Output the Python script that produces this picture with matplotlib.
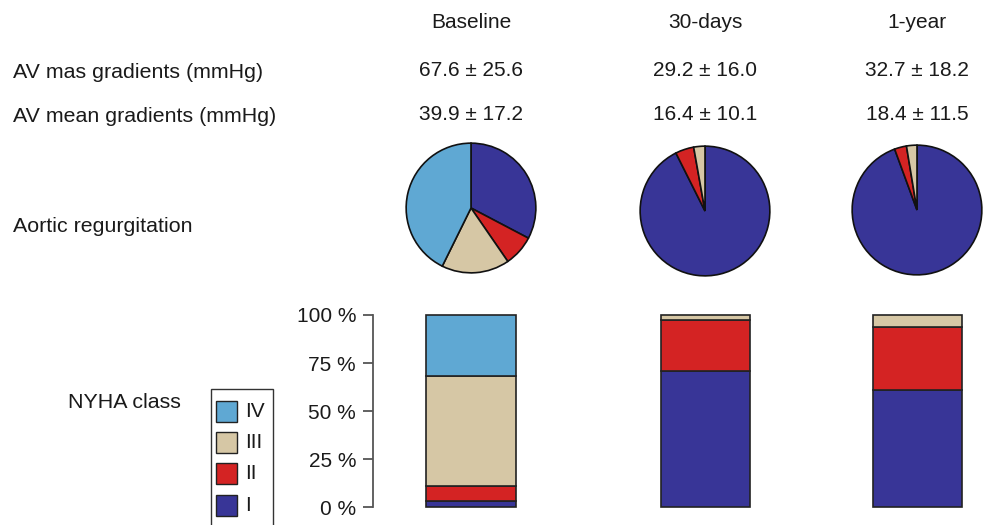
import matplotlib
matplotlib.use("Agg")
import matplotlib.pyplot as plt
from matplotlib.patches import Rectangle

plt.rcParams['font.family'] = ['Liberation Sans', 'DejaVu Sans']

# ---- data ----
timepoints = ["Baseline", "30-days", "1-year"]
classes = ["I", "II", "III", "IV"]
colors = ["#383597", "#d42323", "#d6c7a5", "#5fa8d3"]

max_grad = ["67.6 \u00b1 25.6", "29.2 \u00b1 16.0", "32.7 \u00b1 18.2"]
mean_grad = ["39.9 \u00b1 17.2", "16.4 \u00b1 10.1", "18.4 \u00b1 11.5"]

# aortic regurgitation (%), order I, II, III, IV
ar_baseline = [32.7, 7.7, 16.9, 42.7]
ar_30days = [92.6, 4.6, 2.8, 0.0]
ar_1year = [94.4, 3.0, 2.6, 0.0]
ar_values = [ar_baseline, ar_30days, ar_1year]

# NYHA class (%), order I, II, III, IV
nyha_baseline = [3.4, 7.7, 57.3, 31.6]
nyha_30days = [71.0, 26.2, 2.8, 0.0]
nyha_1year = [61.1, 32.8, 6.1, 0.0]
nyha_values = [nyha_baseline, nyha_30days, nyha_1year]

yticks = [0, 25, 50, 75, 100]
ytick_labels = ["0 %", "25 %", "50 %", "75 %", "100 %"]

# ---- layout (pixels) ----
W, H = 986, 525
col_x = [471, 705, 917]
fs = 15
fs_row = 15.4
txt_col = "#1a1a1a"

fig = plt.figure(figsize=(W / 100, H / 100), dpi=100)

def fx(px):
    return px / W

def fy(py):
    return 1 - py / H

# header texts
for x, t in zip(col_x, timepoints):
    fig.text(fx(x), fy(22), t, ha="center", va="center", fontsize=fs, color=txt_col)
for x, t in zip(col_x, max_grad):
    fig.text(fx(x), fy(71), t, ha="center", va="center", fontsize=fs, color=txt_col)
for x, t in zip(col_x, mean_grad):
    fig.text(fx(x), fy(115), t, ha="center", va="center", fontsize=fs, color=txt_col)

fig.text(fx(13), fy(72), "AV mas gradients (mmHg)", ha="left", va="center", fontsize=fs_row, color=txt_col)
fig.text(fx(13), fy(116), "AV mean gradients (mmHg)", ha="left", va="center", fontsize=fs_row, color=txt_col)
fig.text(fx(13), fy(226), "Aortic regurgitation", ha="left", va="center", fontsize=fs_row, color=txt_col)
fig.text(fx(68), fy(403), "NYHA class", ha="left", va="center", fontsize=fs_row, color=txt_col)

# pies
pie_cy = [208, 211, 210]
R = 65.5
for x, cy, vals in zip(col_x, pie_cy, ar_values):
    ax = fig.add_axes([fx(x - R), fy(cy + R), 2 * R / W, 2 * R / H])
    v = [a for a in vals if a > 0]
    c = [col for a, col in zip(vals, colors) if a > 0]
    ax.pie(v, colors=c, startangle=90, counterclock=False, radius=1,
           wedgeprops=dict(edgecolor="#111111", linewidth=1.2))
    ax.set_xlim(-1.01, 1.01)
    ax.set_ylim(-1.01, 1.01)
    ax.set_aspect("equal")
    ax.axis("off")

# stacked bars
left_px, right_px = 372.7, 985
top_px, bot_px = 315, 507.3
axb = fig.add_axes([fx(left_px), fy(bot_px), (right_px - left_px) / W, (bot_px - top_px) / H])
axb.set_xlim(left_px, right_px)
axb.set_ylim(0, 100)
bar_w = 89
for x, vals in zip(col_x, nyha_values):
    bottom = 0
    for v, col in zip(vals, colors):
        if v <= 0:
            continue
        axb.bar(x, v, width=bar_w, bottom=bottom, color=col, edgecolor="#222222",
                linewidth=1.2, clip_on=False)
        bottom += v
for s in ["top", "right", "bottom"]:
    axb.spines[s].set_visible(False)
axb.spines["left"].set_color("#555555")
axb.spines["left"].set_linewidth(1.3)
axb.set_xticks([])
axb.set_yticks(yticks)
axb.set_yticklabels(ytick_labels, fontsize=fs, color=txt_col)
axb.tick_params(axis="y", length=7, width=1.3, color="#555555", pad=5)
axb.patch.set_visible(False)

# legend
lax = fig.add_axes([0, 0, 1, 1])
lax.set_xlim(0, W)
lax.set_ylim(H, 0)
lax.axis("off")
lax.add_patch(Rectangle((211, 389), 62, 160, facecolor="white", edgecolor="#333333",
                        linewidth=1.0, clip_on=False))
leg_order = [3, 2, 1, 0]
leg_y = [401, 432, 463, 495]
for i, yy in zip(leg_order, leg_y):
    lax.add_patch(Rectangle((216, yy), 20.5, 20.5, facecolor=colors[i], edgecolor="#222222",
                            linewidth=1.0))
    lax.text(245, yy + 10.5, classes[i], ha="left", va="center", fontsize=fs, color=txt_col)

fig.savefig("out.png", dpi=100)
